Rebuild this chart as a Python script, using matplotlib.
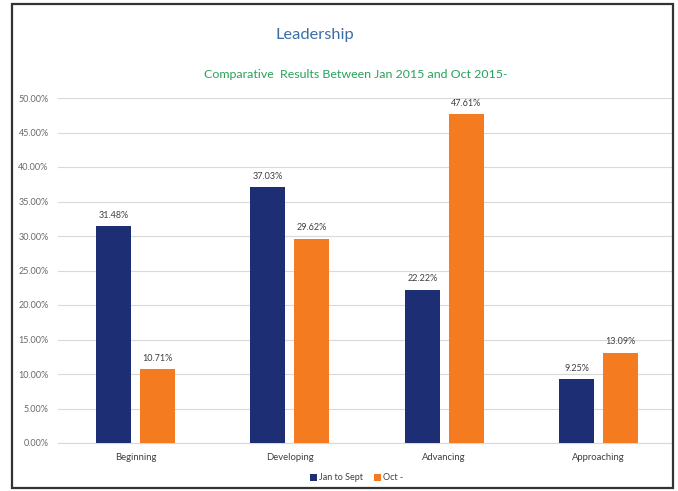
import matplotlib
matplotlib.use("Agg")
import matplotlib.pyplot as plt
from matplotlib.patches import Rectangle, Patch
from matplotlib.ticker import FuncFormatter, MultipleLocator
import numpy as np

plt.rcParams['font.family'] = ['Lato', 'DejaVu Sans']

categories = ["Beginning", "Developing", "Advancing", "Approaching"]
series_names = ["Jan to Sept", "Oct -"]
jan_to_sept = [31.48, 37.03, 22.22, 9.25]
oct_values = [10.71, 29.62, 47.61, 13.09]

navy = "#1d2e74"
orange = "#f47b20"

W, H = 678, 491
fig = plt.figure(figsize=(W / 100, H / 100), dpi=100)
fig.patch.set_facecolor("white")

# plot area in pixel coordinates
left_px, right_px, top_px, bottom_px = 58.3, 672.5, 98, 443
ax = fig.add_axes([left_px / W, 1 - bottom_px / H,
                   (right_px - left_px) / W, (bottom_px - top_px) / H])

x = np.arange(len(categories))
bw = 0.226
off = 0.142
b1 = ax.bar(x - off, jan_to_sept, bw, color=navy, zorder=3)
b2 = ax.bar(x + off, oct_values, bw, color=orange, zorder=3)

for bars, vals in ((b1, jan_to_sept), (b2, oct_values)):
    for r, v in zip(bars, vals):
        ax.text(r.get_x() + r.get_width() / 2, v + 0.9, f"{v:.2f}%",
                ha="center", va="bottom", fontsize=6.5, color="#404040")

ax.set_ylim(0, 50)
ax.set_xlim(-0.5, 3.5 - (675.7 - right_px) / 154.3)
ax.yaxis.set_major_locator(MultipleLocator(5))
ax.yaxis.set_major_formatter(FuncFormatter(lambda v, p: f"{v:.2f}%"))
ax.set_xticks(x)
ax.set_xticklabels(categories)
ax.tick_params(axis="y", length=0, pad=7, labelsize=6.5, labelcolor="#6a6a6a")
ax.tick_params(axis="x", length=0, pad=7, labelsize=6.8, labelcolor="#404040")
ax.grid(axis="y", color="#d9d9d9", linewidth=0.8, zorder=0)
ax.set_axisbelow(True)
for s in ("top", "right", "left"):
    ax.spines[s].set_visible(False)
ax.spines["bottom"].set_color("#d9d9d9")
ax.spines["bottom"].set_linewidth(0.8)

fig.text(315 / W, 1 - 35 / H, "Leadership", ha="center", va="center",
         fontsize=11.8, color="#3b6ea5")
fig.text(355.5 / W, 1 - 75 / H, "Comparative  Results Between Jan 2015 and Oct 2015-",
         ha="center", va="center", fontsize=8.9, color="#27a25a")

handles = [Patch(facecolor=navy), Patch(facecolor=orange)]
fig.legend(handles, series_names, loc="center", bbox_to_anchor=(357 / W, 1 - 478 / H),
           ncol=2, frameon=False, fontsize=6.5, handlelength=0.7, handleheight=0.7,
           handletextpad=0.3, columnspacing=1.2, labelcolor="#404040")

# outer frame
fig.add_artist(Rectangle((12 / W, 1 - 488 / H), (673 - 12) / W, (488 - 4) / H,
                         transform=fig.transFigure, fill=False,
                         edgecolor="#333333", linewidth=1.6, zorder=10))

fig.savefig("out.png", dpi=100, facecolor="white")
